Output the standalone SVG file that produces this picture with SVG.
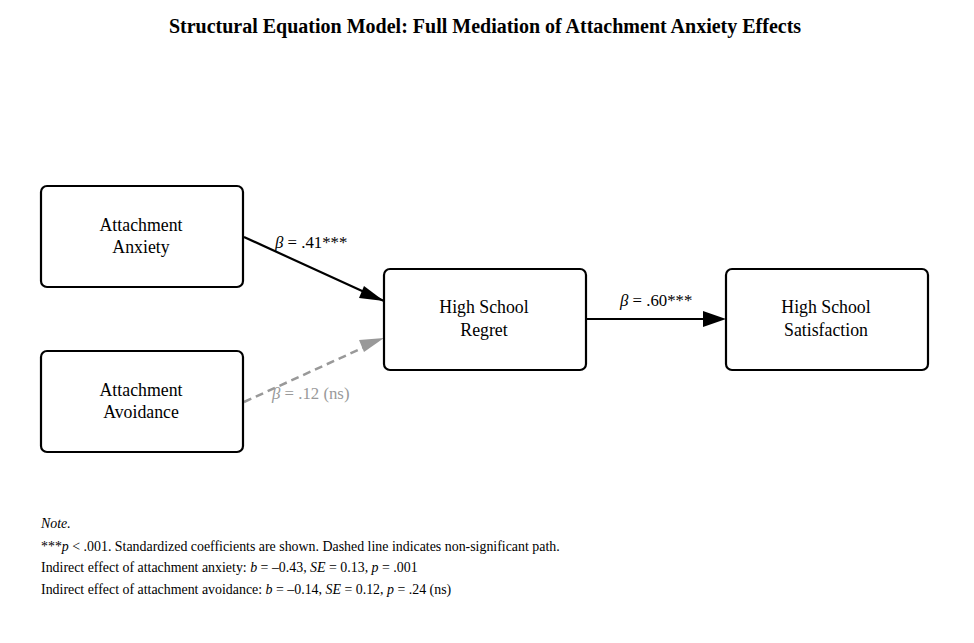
<svg xmlns="http://www.w3.org/2000/svg" width="974" height="643" viewBox="0 0 974 643">
<style>
text{font-family:"Liberation Serif","Times New Roman",serif;fill:#000}
.box{fill:#fff;stroke:#000;stroke-width:2.2}
.lbl{font-size:17.8px;text-anchor:middle}
.nt{font-size:13.9px}
</style>
<rect width="974" height="643" fill="#fff"/>
<text x="485" y="33" text-anchor="middle" font-size="20" font-weight="bold">Structural Equation Model: Full Mediation of Attachment Anxiety Effects</text>
<g id="connectors">
<line x1="244" y1="237" x2="384" y2="301" stroke="#000" stroke-width="2.2"/>
<path d="M364,286 L384,301 L359,298z" fill="#000"/>
<line x1="244" y1="402" x2="369" y2="345" stroke="#999" stroke-width="2.5" stroke-dasharray="8,5"/>
<path d="M384,338 L364,352 L359,340z" fill="#999"/>
<line x1="586" y1="319" x2="706" y2="319" stroke="#000" stroke-width="2.2"/>
<path d="M726,319 L703,311 L703,327z" fill="#000"/>
<text x="275" y="248" font-size="16.8"><tspan font-style="italic">β</tspan> = .41***</text>
<text x="272" y="399" font-size="16.8" style="fill:#999"><tspan font-style="italic">β</tspan> = .12 (ns)</text>
<text x="620" y="306" font-size="16.8"><tspan font-style="italic">β</tspan> = .60***</text>
</g>
<g id="anxiety"><rect class="box" x="41" y="186" width="202" height="101" rx="6"/><text class="lbl" x="141" y="231">Attachment</text><text class="lbl" x="141" y="253">Anxiety</text></g>
<g id="avoidance"><rect class="box" x="41" y="351" width="202" height="101" rx="6"/><text class="lbl" x="141" y="396">Attachment</text><text class="lbl" x="141" y="418">Avoidance</text></g>
<g id="regret"><rect class="box" x="384" y="269" width="202" height="101" rx="6"/><text class="lbl" x="484" y="313">High School</text><text class="lbl" x="484" y="336">Regret</text></g>
<g id="satisfaction"><rect class="box" x="726" y="269" width="202" height="101" rx="6"/><text class="lbl" x="826" y="313">High School</text><text class="lbl" x="826" y="336">Satisfaction</text></g>
<g id="note">
<text class="nt" x="41" y="528" font-style="italic">Note.</text>
<text class="nt" x="41" y="551">***<tspan font-style="italic">p</tspan> &lt; .001. Standardized coefficients are shown. Dashed line indicates non-significant path.</text>
<text class="nt" x="41" y="572">Indirect effect of attachment anxiety: <tspan font-style="italic">b</tspan> = –0.43, <tspan font-style="italic">SE</tspan> = 0.13, <tspan font-style="italic">p</tspan> = .001</text>
<text class="nt" x="41" y="594">Indirect effect of attachment avoidance: <tspan font-style="italic">b</tspan> = –0.14, <tspan font-style="italic">SE</tspan> = 0.12, <tspan font-style="italic">p</tspan> = .24 (ns)</text>
</g>
</svg>
